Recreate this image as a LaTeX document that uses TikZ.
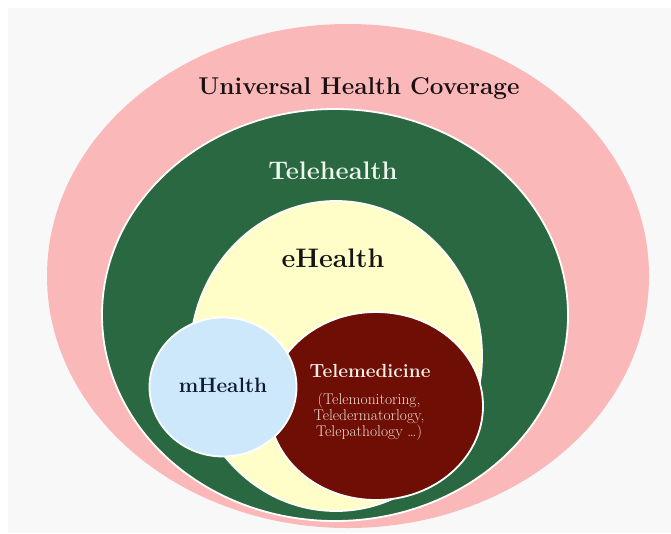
\documentclass[tikz,border=0pt]{standalone}
\usepackage{fontspec}
\usetikzlibrary{shapes.geometric}
\definecolor{bgGray}{HTML}{F8F8F8}
\definecolor{uhcPink}{HTML}{FBB8B9}
\definecolor{teleGreen}{HTML}{296840}
\definecolor{eCream}{HTML}{FFFDC8}
\definecolor{medRed}{HTML}{6E0E04}
\definecolor{mBlue}{HTML}{CDE8FA}
\definecolor{titleInk}{HTML}{1A1012}
\definecolor{greenInk}{HTML}{EEF6EE}
\definecolor{mInk}{HTML}{0E1A30}
\definecolor{redInk}{HTML}{F8EEE8}
\definecolor{subInk}{HTML}{F0DAD2}
\tikzset{
  zone/.style={ellipse, inner sep=0pt, outer sep=0pt},
  rim/.style={draw=white, line width=1.8pt},
  lbl/.style={anchor=base, inner sep=0pt, font=\bfseries},
}
\begin{document}
\begin{tikzpicture}[x=1pt, y=-1pt]
\useasboundingbox (0,0) rectangle (671,533);
\fill[white] (0,0) rectangle (671,533);
\fill[bgGray] (8,8) rectangle (671,533);
% nested zones
\node[zone, fill=uhcPink, minimum width=602pt, minimum height=504pt] (uhc) at (348,276) {};
\node[zone, rim, fill=teleGreen, minimum width=466pt, minimum height=412pt] (tele) at (335,315) {};
\node[zone, rim, fill=eCream, minimum width=292pt, minimum height=310pt] (ehealth) at (336,356) {};
\node[zone, rim, fill=medRed, minimum width=214pt, minimum height=188pt] (telemed) at (376,406) {};
\node[zone, rim, fill=mBlue, minimum width=147pt, minimum height=139pt] (mhealth) at (223,387) {};
% labels
\node[lbl, text=titleInk, font=\bfseries\fontsize{24.3}{28}\selectfont] (tUHC) at (359,94) {Universal Health Coverage};
\node[lbl, text=greenInk, font=\bfseries\fontsize{25.4}{28}\selectfont] (tTele) at (333,179) {Telehealth};
\node[lbl, text=black!92, font=\bfseries\fontsize{26.8}{28}\selectfont] (tE) at (333,267) {eHealth};
\node[lbl, text=mInk, font=\bfseries\fontsize{20.8}{24}\selectfont] (tM) at (223,392) {mHealth};
\node[lbl, text=redInk, font=\bfseries\fontsize{19}{22}\selectfont] (tMed) at (370,377) {Telemedicine};
\node[anchor=north, inner sep=0pt, text=subInk, align=center, font=\fontsize{15.5}{16}\selectfont] (tSub) at (369,393) {(Telemonitoring,\\Teledermatorlogy,\\Telepathology \dots)};
\end{tikzpicture}
\end{document}
